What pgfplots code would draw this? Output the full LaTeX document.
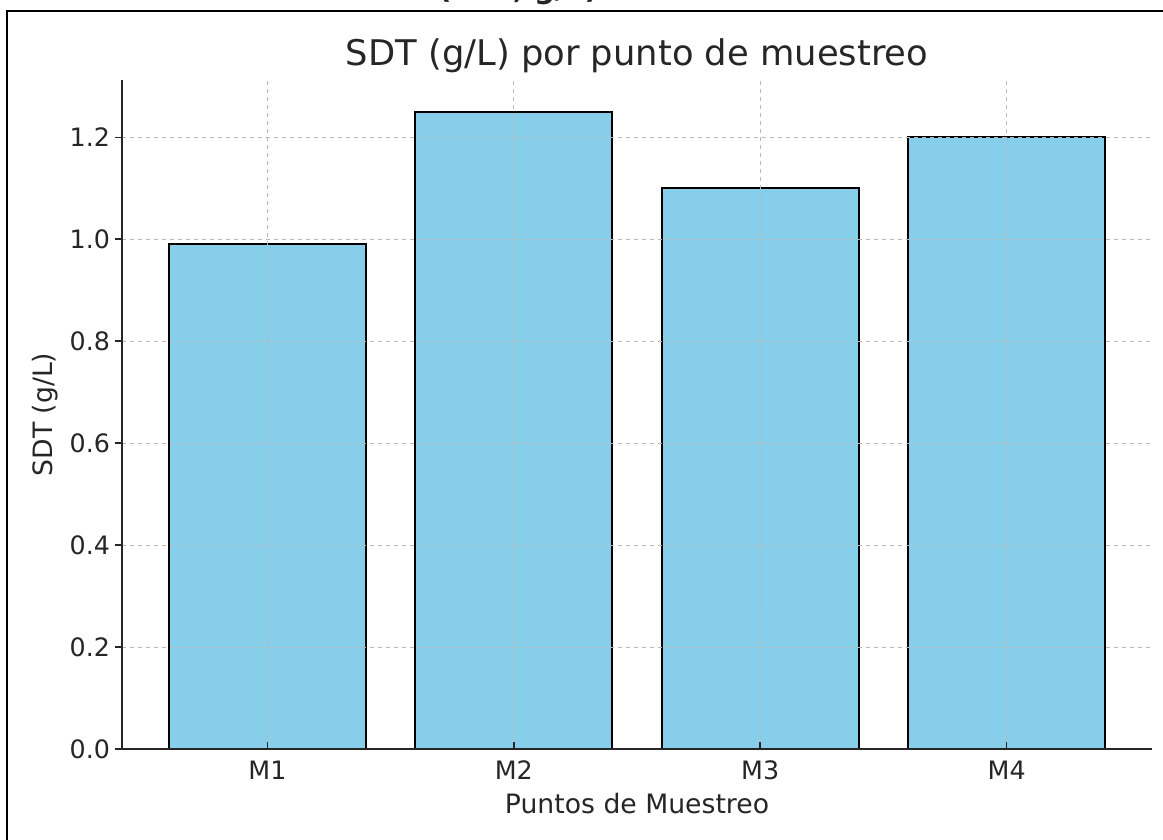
\documentclass[border=0pt]{standalone}
\usepackage{pgfplots}
\pgfplotsset{compat=1.18}
\usepackage{fontspec}
\setmainfont{DejaVu Sans}
\definecolor{barblue}{HTML}{87CEEB}
\definecolor{spine}{HTML}{262626}
\definecolor{gridc}{HTML}{B8B8B8}
\begin{document}
\begin{tikzpicture}[x=0.75pt,y=0.75pt]
\begin{axis}[
  at={(91.5pt,67.5pt)}, anchor=south west,
  scale only axis, width=772.5pt, height=501.75pt,
  xmin=-0.59, xmax=3.59, ymin=0, ymax=1.3125,
  axis x line*=bottom, axis y line*=left,
  axis line style={spine, line width=1.4pt, -},
  xtick={0,1,2,3}, xticklabels={M1,M2,M3,M4},
  ytick={0,0.2,0.4,0.6,0.8,1.0,1.2},
  yticklabel style={/pgf/number format/.cd,fixed,fixed zerofill,precision=1},
  /pgf/number format/assume math mode=true,
  tick align=outside, major tick length=5.5pt,
  tick style={spine, line width=1.2pt},
  xtick style={yshift=5.5pt},
  ticklabel style={font=\fontsize{19}{21}\selectfont, text=spine},
  grid=major,
  major grid style={gridc, dashed, line width=0.8pt},
  axis on top,
  title={SDT (g/L) por punto de muestreo},
  title style={font=\fontsize{26.5}{29}\selectfont, text=spine, yshift=-4pt},
  xlabel={Puntos de Muestreo}, ylabel={SDT (g/L)},
  label style={font=\fontsize{20}{22}\selectfont, text=spine},
  ylabel style={yshift=2pt},
  xlabel style={yshift=-3pt},
  clip=false,
]
\addplot[ybar, bar width=0.8, fill=barblue, draw=black, line width=1.5pt]
  coordinates {(0,0.99) (1,1.25) (2,1.10) (3,1.20)};
\end{axis}
\node[font=\bfseries\fontsize{22}{24}\selectfont, anchor=base, text=black!85] at (518,840) {(SDT, g/L)};
\draw[black, line width=1.8pt] (7,-5) -- (7,828) -- (1170,828);
\pgfresetboundingbox
\path[use as bounding box] (0,0) rectangle (1163,839);
\end{tikzpicture}
\end{document}
